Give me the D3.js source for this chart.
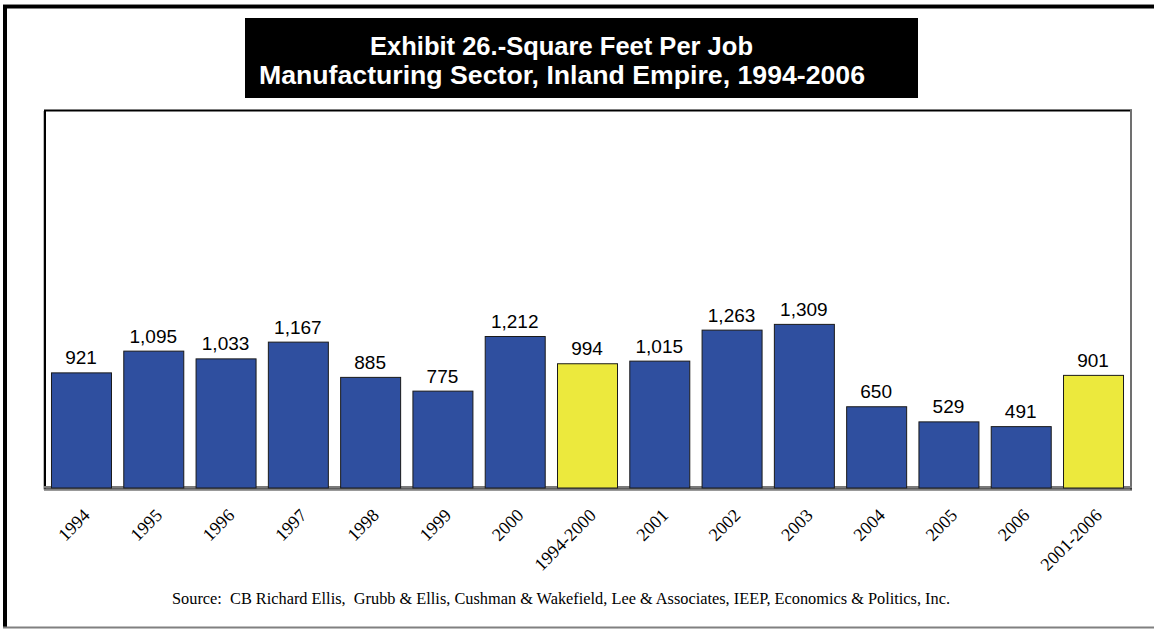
<!DOCTYPE html>
<html>
<head>
<meta charset="utf-8">
<script src="https://cdn.jsdelivr.net/npm/d3@7"></script>
<style>
  html, body { margin: 0; padding: 0; background: #fff; }
  svg { display: block; }
</style>
</head>
<body>
<svg id="chart" width="1154" height="629"></svg>
<script>
// Square feet per manufacturing job, Inland Empire
const categories = ["1994", "1995", "1996", "1997", "1998", "1999", "2000", "1994-2000",
                    "2001", "2002", "2003", "2004", "2005", "2006", "2001-2006"];
const sqftPerJob = [921, 1095, 1033, 1167, 885, 775, 1212, 994,
                    1015, 1263, 1309, 650, 529, 491, 901];
const averagePeriods = ["1994-2000", "2001-2006"];
const yDomain = [0, 3000];

const titleLines = ["Exhibit 26.-Square Feet Per Job",
                    "Manufacturing Sector, Inland Empire, 1994-2006"];
const sourceNote = "Source:  CB Richard Ellis,  Grubb & Ellis, Cushman & Wakefield, Lee & Associates, IEEP, Economics & Politics, Inc.";

const svg = d3.select("#chart");
const W = 1154;

// Outer frame: heavy black left and top, thin grey bottom
svg.append("rect").attr("x", 3).attr("y", 5).attr("width", 4).attr("height", 622).attr("fill", "#000");
svg.append("rect").attr("x", 3).attr("y", 5).attr("width", W - 3).attr("height", 3.5).attr("fill", "#000");
svg.append("rect").attr("x", 3).attr("y", 4).attr("width", W - 3).attr("height", 1).attr("fill", "#888");
svg.append("rect").attr("x", 3).attr("y", 626.5).attr("width", W - 3).attr("height", 2).attr("fill", "#808080");

// Title block
svg.append("rect").attr("x", 245).attr("y", 18).attr("width", 673).attr("height", 80).attr("fill", "#000");
const titleWidths = [383, 606];
const titleX = [561.5, 562];
svg.append("g").selectAll("text").data(titleLines).join("text")
  .attr("x", (d, i) => titleX[i]).attr("y", (d, i) => 55 + i * 29)
  .attr("text-anchor", "middle")
  .attr("fill", "#fff")
  .attr("font-family", "'Liberation Sans', Arial, sans-serif")
  .attr("font-weight", "bold")
  .attr("font-size", 25.5)
  .attr("textLength", (d, i) => titleWidths[i])
  .attr("lengthAdjust", "spacingAndGlyphs")
  .text(d => d);

// Plot area
const plot = { left: 46, right: 1131, top: 111, bottom: 487.5 };

const x = d3.scaleBand()
  .domain(categories)
  .range([plot.left, 1128])
  .paddingInner(0.17)
  .paddingOuter(0.069);

const y = d3.scaleLinear()
  .domain(yDomain)
  .range([plot.bottom, plot.bottom - 375]);

// Plot frame: black left and top, grey right
svg.append("line").attr("x1", plot.left - 1).attr("x2", plot.left - 1)
  .attr("y1", plot.top - 1).attr("y2", plot.bottom + 1)
  .attr("stroke", "#000").attr("stroke-width", 2);
svg.append("line").attr("x1", plot.left - 2.5).attr("x2", plot.left - 2.5)
  .attr("y1", plot.top).attr("y2", plot.bottom + 2)
  .attr("stroke", "#bbb").attr("stroke-width", 1);
svg.append("line").attr("x1", plot.left - 2).attr("x2", plot.right + 1)
  .attr("y1", plot.top - 0.5).attr("y2", plot.top - 0.5)
  .attr("stroke", "#000").attr("stroke-width", 2);
svg.append("line").attr("x1", plot.right).attr("x2", plot.right)
  .attr("y1", plot.top - 1).attr("y2", plot.bottom + 2)
  .attr("stroke", "#707070").attr("stroke-width", 2);

// Floor: black base line with a grey edge beneath
svg.append("rect").attr("x", plot.left - 2).attr("y", plot.bottom - 1.5)
  .attr("width", plot.right - plot.left + 3).attr("height", 2.5).attr("fill", "#7a7a7a");
svg.append("line").attr("x1", plot.left - 2).attr("x2", plot.right + 1)
  .attr("y1", plot.bottom + 1.5).attr("y2", plot.bottom + 1.5)
  .attr("stroke", "#000").attr("stroke-width", 1);
svg.append("line").attr("x1", plot.left - 2).attr("x2", plot.right + 1)
  .attr("y1", plot.bottom + 3).attr("y2", plot.bottom + 3)
  .attr("stroke", "#999").attr("stroke-width", 1);

const data = categories.map((c, i) => ({ cat: c, value: sqftPerJob[i] }));

// Bars
svg.append("g").selectAll("rect").data(data).join("rect")
  .attr("x", d => x(d.cat) + 0.5)
  .attr("y", d => y(d.value) + 0.5)
  .attr("width", x.bandwidth())
  .attr("height", d => y(0) - y(d.value))
  .attr("fill", d => averagePeriods.includes(d.cat) ? "#ECE93D" : "#2F4F9F")
  .attr("stroke", "#1a1a1a")
  .attr("stroke-width", 1);

// Value labels
svg.append("g").selectAll("text").data(data).join("text")
  .attr("x", d => x(d.cat) + x.bandwidth() / 2)
  .attr("y", d => y(d.value) - 8)
  .attr("text-anchor", "middle")
  .attr("fill", "#000")
  .attr("font-family", "'Liberation Sans', Arial, sans-serif")
  .attr("font-size", 19)
  .text(d => d3.format(",")(d.value));

// Category axis with rotated labels
const xAxis = svg.append("g")
  .attr("transform", `translate(0,${plot.bottom + 3})`)
  .call(d3.axisBottom(x).tickSize(0).tickPadding(0));
xAxis.select(".domain").remove();
xAxis.selectAll(".tick text")
  .attr("font-family", "'Liberation Serif', 'Times New Roman', serif")
  .attr("font-size", 18)
  .attr("fill", "#000")
  .attr("text-anchor", "end")
  .attr("dy", null)
  .attr("y", 0)
  .attr("transform", "translate(10,26) rotate(-45)");

// Source note
svg.append("text")
  .attr("x", 561).attr("y", 604)
  .attr("text-anchor", "middle")
  .attr("font-family", "'Liberation Serif', 'Times New Roman', serif")
  .attr("font-size", 16)
  .attr("fill", "#000")
  .style("white-space", "pre")
  .attr("textLength", 778)
  .attr("lengthAdjust", "spacingAndGlyphs")
  .text(sourceNote);
</script>
</body>
</html>
